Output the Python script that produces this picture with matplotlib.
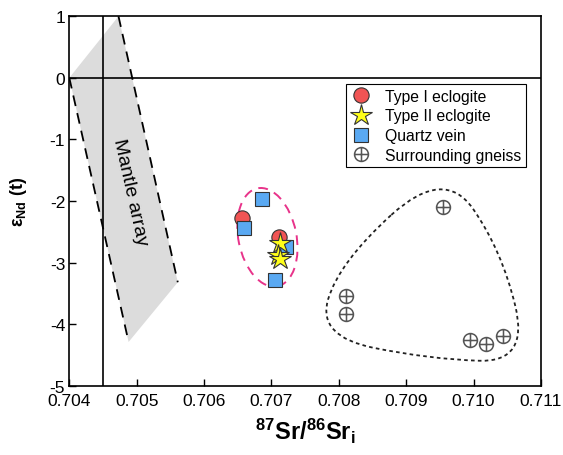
import matplotlib
matplotlib.use('Agg')
import matplotlib.pyplot as plt
from matplotlib.path import Path
from matplotlib.patches import PathPatch, Polygon, Ellipse
from matplotlib.transforms import ScaledTranslation

plt.rcParams['font.family'] = ['Liberation Sans', 'DejaVu Sans']
plt.rcParams['mathtext.fontset'] = 'custom'
plt.rcParams['mathtext.rm'] = 'Liberation Sans'
plt.rcParams['mathtext.it'] = 'Liberation Sans:italic'
plt.rcParams['mathtext.bf'] = 'Liberation Sans:bold'
plt.rcParams['axes.unicode_minus'] = False

# Sr-Nd isotope data
type1_sr = [0.70656, 0.70711]
type1_nd = [-2.27, -2.58]
type2_sr = [0.70712, 0.70709, 0.70712]
type2_nd = [-2.68, -2.87, -2.94]
vein_sr = [0.70686, 0.70659, 0.70722, 0.70706]
vein_nd = [-1.96, -2.44, -2.75, -3.28]
gneiss_sr = [0.70954, 0.70811, 0.70811, 0.70995, 0.71019, 0.71044]
gneiss_nd = [-2.10, -3.55, -3.84, -4.25, -4.33, -4.20]

# mantle array band corners and bulk earth reference
mantle_sr = [0.7040, 0.70473, 0.70561, 0.70488]
mantle_nd = [0.0, 1.0, -3.32, -4.29]
bse_sr = 0.7045
chur_nd = 0.0

# control polygon for the gneiss envelope
env_sr = [0.70956, 0.71042, 0.71082, 0.70935, 0.70768, 0.70800]
env_nd = [-1.45, -2.80, -4.62, -4.57, -4.20, -3.00]

fig = plt.figure(figsize=(5.63, 4.56), dpi=100)
ax = fig.add_axes([0.1231, 0.1520, 0.8378, 0.8101])
ax.set_xlim(0.704, 0.711)
ax.set_ylim(-5, 1)

ax.add_patch(Polygon(list(zip(mantle_sr, mantle_nd)), closed=True,
                     facecolor='#dcdcdc', edgecolor='none', zorder=1))
ax.plot([mantle_sr[0], mantle_sr[3]], [mantle_nd[0], mantle_nd[3]],
        color='black', lw=1.3, ls=(0, (6, 4)), zorder=2)
ax.plot([mantle_sr[1], mantle_sr[2]], [mantle_nd[1], mantle_nd[2]],
        color='black', lw=1.3, ls=(0, (6, 4)), zorder=2)
ax.text(0.70490, -1.85, 'Mantle array', rotation=-77.5, fontsize=14,
        ha='center', va='center', zorder=3)

ax.axvline(bse_sr, color='black', lw=1.2, zorder=2)
ax.axhline(chur_nd, color='black', lw=1.2, zorder=2)

# smooth closed envelope around the gneiss samples (quadratic B-spline)
n = len(env_sr)
pts = list(zip(env_sr, env_nd))
mids = [((pts[i][0] + pts[(i + 1) % n][0]) / 2,
         (pts[i][1] + pts[(i + 1) % n][1]) / 2) for i in range(n)]
verts = [mids[-1]]
codes = [Path.MOVETO]
for i in range(n):
    verts += [pts[i], mids[i]]
    codes += [Path.CURVE3, Path.CURVE3]
ax.add_patch(PathPatch(Path(verts, codes), facecolor='none', edgecolor='#222222',
                       lw=1.3, ls=(0, (2, 1.8)), zorder=2))

# dashed ellipse around the eclogite / vein cluster (sized in pixels)
ell = Ellipse((0, 0), width=58, height=100, angle=11.5, facecolor='none',
              edgecolor='#e8338a', lw=1.4, ls=(0, (5, 3.5)), zorder=2,
              transform=ScaledTranslation(0.70694, -2.59, ax.transData))
ax.add_patch(ell)

# circle-plus marker
circ = Path.unit_circle()
cross = Path([[-1, 0], [1, 0], [0, -1], [0, 1]],
             [Path.MOVETO, Path.LINETO, Path.MOVETO, Path.LINETO])
oplus = Path.make_compound_path(circ, cross)

ax.plot(type1_sr, type1_nd, ls='none', marker='o', ms=11, mfc='#f05454',
        mec='#333333', mew=0.8, zorder=4, label='Type I eclogite')
ax.plot(vein_sr, vein_nd, ls='none', marker='s', ms=10, mfc='#5aa9f2',
        mec='#333333', mew=0.8, zorder=5, label='Quartz vein')
ax.plot(type2_sr, type2_nd, ls='none', marker='*', ms=16, mfc='#ffff1a',
        mec='#333333', mew=0.8, zorder=6, label='Type II eclogite')
ax.plot(gneiss_sr, gneiss_nd, ls='none', marker=oplus, ms=10, mfc='none',
        mec='#555555', mew=1.1, zorder=4, label='Surrounding gneiss')

handles, labels = ax.get_legend_handles_labels()
order = [0, 2, 1, 3]
leg = ax.legend([handles[i] for i in order], [labels[i] for i in order],
                loc='upper right', bbox_to_anchor=(0.968, 0.817),
                borderaxespad=0, fontsize=11.3, fancybox=False, framealpha=1,
                edgecolor='black', handletextpad=0.8, labelspacing=0.3,
                borderpad=0.3, handlelength=1.4)
leg.get_frame().set_linewidth(0.8)

ax.set_xticks([0.704, 0.705, 0.706, 0.707, 0.708, 0.709, 0.710, 0.711])
ax.set_xticklabels(['0.704', '0.705', '0.706', '0.707', '0.708', '0.709',
                    '0.710', '0.711'])
ax.set_yticks(range(-5, 2))
ax.tick_params(direction='in', length=5, width=1, labelsize=12.5, pad=3)
ax.tick_params(axis='x', pad=5)
for sp in ax.spines.values():
    sp.set_linewidth(1.2)

ax.set_xlabel(r'$\mathbf{^{87}Sr/^{86}Sr_i}$', fontsize=17, labelpad=6)
ax.set_ylabel(r'$\mathbf{\varepsilon_{Nd}}$ (t)', fontsize=13, fontweight='bold',
              labelpad=15)

fig.savefig('out.png', dpi=100)
